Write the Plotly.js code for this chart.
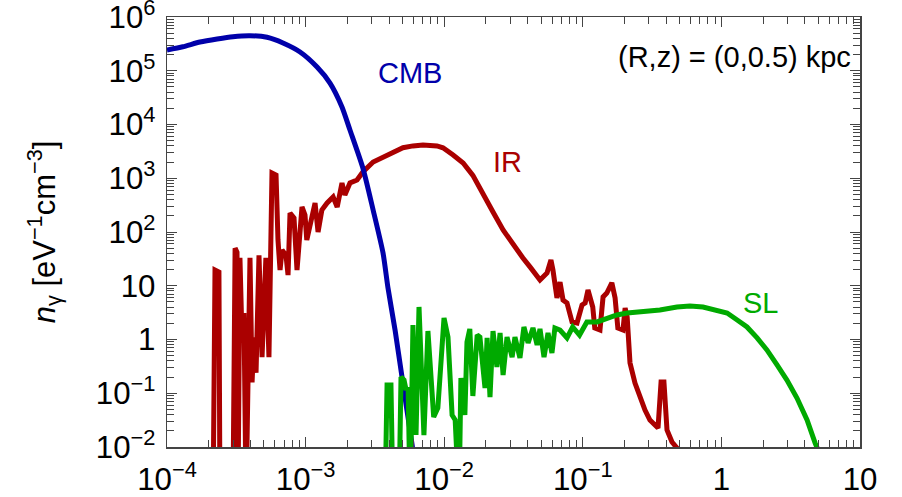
<!DOCTYPE html>
<html><head><meta charset="utf-8">
<script src="https://cdn.plot.ly/plotly-3.0.1.min.js"></script>
<style>html,body{margin:0;padding:0;background:#fff}#chart{width:902px;height:497px}</style>
</head><body><div id="chart"></div>
<script>
// CMB photon density (eV^-1 cm^-3) vs photon energy (eV)
const cmbE = [1.0e-4, 1.30e-4, 1.73e-4, 2.30e-4, 2.99e-4, 3.97e-4, 5.27e-4, 6.87e-4, 9.12e-4, 1.21e-3, 1.50e-3, 1.83e-3, 2.09e-3, 2.59e-3, 3.07e-3, 3.62e-3, 3.93e-3, 4.42e-3, 4.96e-3, 5.38e-3, 5.9e-3, 6.26e-3];
const cmbN = [2.44e5, 2.8e5, 3.42e5, 3.9e5, 4.3e5, 4.48e5, 4.19e5, 3.28e5, 2.23e5, 1.17e5, 5.9e4, 2.12e4, 7.9e3, 1.55e3, 257, 40.7, 9.1, 1.50, 0.201, 0.0488, 0.01, 3.0e-3];

// Infrared (dust) component
const irE = [2.15e-4, 2.22e-4, 2.37e-4, 2.41e-4, 2.99e-4, 3.10e-4, 3.20e-4, 3.25e-4, 3.36e-4, 3.48e-4, 3.59e-4, 3.72e-4, 3.97e-4, 4.11e-4, 4.24e-4, 4.39e-4, 4.61e-4, 4.85e-4, 5.17e-4, 5.44e-4, 5.72e-4, 6.12e-4, 6.32e-4, 6.54e-4, 6.76e-4, 7.22e-4, 7.47e-4, 7.72e-4, 8.25e-4, 8.67e-4, 9.42e-4, 9.9e-4, 1.02e-3, 1.09e-3, 1.17e-3, 1.23e-3, 1.31e-3, 1.43e-3, 1.58e-3, 1.69e-3, 1.83e-3, 1.92e-3, 2.09e-3, 2.35e-3, 2.59e-3, 3.07e-3, 3.62e-3, 4.27e-3, 5.04e-3, 5.95e-3, 7.03e-3, 8.87e-3, 9.8e-3, 1.16e-2, 1.37e-2, 1.61e-2, 1.91e-2, 2.25e-2, 2.66e-2, 3.14e-2, 3.70e-2, 4.16e-2, 4.91e-2, 5.52e-2, 5.89e-2, 6.09e-2, 6.51e-2, 6.85e-2, 7.20e-2, 7.69e-2, 8.36e-2, 9.08e-2, 9.87e-2, 0.104, 0.109, 0.118, 0.122, 0.133, 0.140, 0.149, 0.162, 0.171, 0.179, 0.195, 0.202, 0.209, 0.219, 0.238, 0.259, 0.281, 0.305, 0.349, 0.367, 0.385, 0.405, 0.440, 0.478, 0.502];
const irN = [1e-3, 19.6, 18, 1e-3, 1e-3, 50, 42, 1e-3, 33, 0.98, 3.1, 1e-3, 33, 0.16, 1.1, 0.24, 37, 0.47, 33, 0.47, 1250, 1150, 71, 19.6, 46, 37, 15.8, 226, 182, 19.6, 292, 207, 71, 154, 346, 100, 257, 346, 448, 292, 817, 488, 817, 928, 1310, 2000, 2480, 2950, 3690, 4000, 4160, 4000, 3690, 2700, 1920, 1130, 532, 236, 109, 57, 32.8, 22.4, 12.8, 17.3, 30.2, 19.6, 5.92, 11.7, 5.43, 4.79, 2.12, 2.03, 4.39, 4.79, 8.33, 4.03, 1.64, 1.50, 6.2, 7.33, 11.3, 5.92, 1.64, 1.50, 3.85, 2.62, 0.369, 0.155, 0.085, 0.0488, 0.0318, 0.0226, 0.162, 0.162, 0.0207, 0.0124, 0.0096, 0.0065];

// Stellar light component
const slE = [3.74e-3, 3.87e-3, 4.13e-3, 4.27e-3, 4.72e-3, 4.88e-3, 5.13e-3, 5.31e-3, 5.49e-3, 5.68e-3, 5.95e-3, 6.26e-3, 6.58e-3, 7.14e-3, 7.63e-3, 8.40e-3, 9.00e-3, 9.97e-3, 1.065e-2, 1.14e-2, 1.20e-2, 1.24e-2, 1.28e-2, 1.32e-2, 1.41e-2, 1.46e-2, 1.53e-2, 1.61e-2, 1.73e-2, 1.81e-2, 1.97e-2, 2.04e-2, 2.14e-2, 2.25e-2, 2.40e-2, 2.53e-2, 2.66e-2, 2.84e-2, 3.09e-2, 3.24e-2, 3.52e-2, 3.76e-2, 4.03e-2, 4.37e-2, 4.68e-2, 4.91e-2, 5.25e-2, 5.61e-2, 5.99e-2, 6.29e-2, 6.85e-2, 7.69e-2, 8.45e-2, 9.47e-2, 0.107, 0.127, 0.149, 0.176, 0.209, 0.246, 0.290, 0.360, 0.478, 0.593, 0.737, 0.930, 1.10, 1.30, 1.53, 1.81, 2.13, 2.52, 2.97, 3.51, 4.15, 4.74, 4.98];
const slN = [1e-3, 0.142, 0.142, 1e-3, 1e-3, 0.201, 0.176, 0.115, 0.131, 1e-3, 1.86, 0.0167, 4.03, 0.0167, 1.44, 0.0362, 0.0532, 2.51, 1.11, 0.0394, 0.0318, 1e-3, 1e-3, 0.192, 0.0394, 0.900, 1.57, 0.089, 1.21, 1.11, 0.125, 1.07, 0.085, 1.44, 0.308, 1.32, 0.218, 1.11, 0.472, 1.11, 0.452, 1.71, 0.861, 1.64, 0.79, 1.57, 0.472, 1.32, 0.561, 1.64, 1.50, 1.07, 1.71, 1.21, 2.12, 2.12, 2.51, 2.86, 3.11, 3.25, 3.25, 3.54, 4.03, 4.20, 4.03, 3.54, 3.11, 2.31, 1.71, 1.07, 0.64, 0.336, 0.176, 0.0815, 0.0318, 0.0119, 0.0088];

const labels = ['CMB', 'IR', 'SL'];
const colors = ['#0000aa', '#aa0000', '#00aa00'];
const noteText = '(R,z) = (0,0.5) kpc';

const FONT = 'Liberation Sans, Arial, Helvetica, sans-serif';

const traces = [
  {x: irE, y: irN, mode: 'lines', line: {color: colors[1], width: 5}, name: labels[1]},
  {x: cmbE, y: cmbN, mode: 'lines', line: {color: colors[0], width: 5, shape: 'spline', smoothing: 0.6}, name: labels[0]},
  {x: slE, y: slN, mode: 'lines', line: {color: colors[2], width: 5}, name: labels[2]}
];

const axBase = {
  type: 'log', tickmode: 'linear', tick0: 0, dtick: 1, exponentformat: 'power',
  ticks: 'inside', ticklen: 10, tickwidth: 1, tickcolor: '#444',
  showline: true, linecolor: '#444', linewidth: 1.5, mirror: 'ticks',
  showgrid: false, zeroline: false, ticklabeloverflow: 'allow',
  minor: {dtick: 'D1', ticks: 'inside', ticklen: 7, tickwidth: 1, tickcolor: '#444', showgrid: false},
  tickfont: {family: FONT, size: 25, color: '#000'}
};

const layout = {
  width: 902, height: 497,
  margin: {l: 167, r: 42, t: 17, b: 50},
  paper_bgcolor: '#fff', plot_bgcolor: '#fff',
  showlegend: false,
  font: {family: FONT, color: '#000'},
  xaxis: Object.assign({}, axBase, {range: [-4, 1], ticklabelstandoff: 5}),
  yaxis: Object.assign({}, axBase, {range: [-2, 6], ticklabelstandoff: 5,
    title: {text: '<i>n</i><sub>γ</sub> [eV<sup>−1</sup>cm<sup>−3</sup>]', font: {family: FONT, size: 31, color: '#000'}, standoff: 31}}),
  annotations: [
    {xref: 'paper', yref: 'paper', x: 0.351, y: 0.870, xanchor: 'center', yanchor: 'middle', text: labels[0], showarrow: false, font: {family: FONT, size: 29, color: colors[0]}},
    {xref: 'paper', yref: 'paper', x: 0.491, y: 0.663, xanchor: 'center', yanchor: 'middle', text: labels[1], showarrow: false, font: {family: FONT, size: 29, color: colors[1]}},
    {xref: 'paper', yref: 'paper', x: 0.856, y: 0.335, xanchor: 'center', yanchor: 'middle', text: labels[2], showarrow: false, font: {family: FONT, size: 29, color: colors[2]}},
    {xref: 'paper', yref: 'paper', x: 0.990, y: 0.907, xanchor: 'right', yanchor: 'middle', text: noteText, showarrow: false, font: {family: FONT, size: 29, color: '#000'}}
  ]
};

Plotly.newPlot('chart', traces, layout, {displayModeBar: false, staticPlot: true});
</script></body></html>
